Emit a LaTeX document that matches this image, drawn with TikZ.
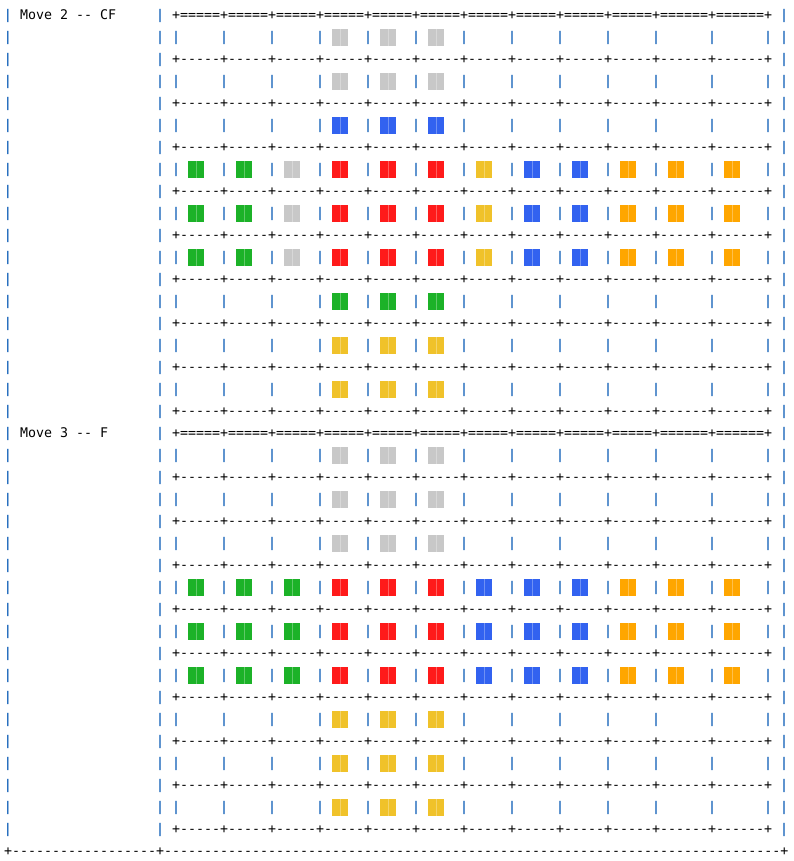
\documentclass[tikz,border=0pt]{standalone}
\usepackage{fontspec}
\setmonofont{DejaVu Sans Mono}
\definecolor{faceW}{RGB}{200,200,200}
\definecolor{faceG}{RGB}{28,178,40}
\definecolor{faceR}{RGB}{255,26,26}
\definecolor{faceY}{RGB}{240,194,42}
\definecolor{faceB}{RGB}{50,98,240}
\definecolor{faceO}{RGB}{255,166,0}
\definecolor{pipe}{RGB}{38,110,190}
\tikzset{
  ascii/.style={font=\ttfamily\fontsize{13.29pt}{22pt}\selectfont, inner sep=0pt, anchor=base},
  bar/.style={ascii, font=\ttfamily\bfseries\fontsize{13.29pt}{22pt}\selectfont, text=pipe},
  rule/.style={ascii, anchor=base west},
  tile/.style={path picture={\fill[white, opacity=.3] ([xshift=-.5pt]path picture bounding box.south) rectangle ([xshift=.5pt]path picture bounding box.north);}}
}
\def\blank{n}
\begin{document}
\begin{tikzpicture}[x=8pt, y=-22pt]
  % 魔方展开图（文本表格）
  \useasboundingbox (0,0) rectangle (99.125,39.136);
  \begin{scope}[shift={(1,0.886)}]
    \foreach \l in {0,...,37} {
      \node[bar] (outer-\l) at (0,\l) {|};
      \node[bar] (split-\l) at (19,\l) {|};
      \node[bar] (edge-\l) at (97,\l) {|};
    }
    \node[rule] (title2) at (1.5,0) {Move 2 -- CF};
    \node[rule] (title3) at (1.5,19) {Move 3 -- F};
    \foreach \b in {0,19} {
      \node[rule] (head-\b) at (20.5,\b) {+=====+=====+=====+=====+=====+=====+=====+=====+=====+=====+======+======+};
      \foreach \k in {1,...,9} {
        \pgfmathtruncatemacro\sepline{\b+2*\k}
        \pgfmathtruncatemacro\cellline{\sepline-1}
        \node[rule] (sep-\sepline) at (20.5,\sepline) {+-----+-----+-----+-----+-----+-----+-----+-----+-----+-----+------+------+};
        \foreach \col in {21,27,33,39,45,51,57,63,69,75,81,88,95}
          \node[bar] (cell-\cellline-\col) at (\col,\cellline) {|};
      }
    }
    \node[rule] (bottom) at (-0.5,38) {+------------------+-----------------------------------------------------------------------------+};
  \end{scope}
  % 色块
  \begin{scope}[shift={(1,0.682)}]
    \foreach \row [count=\r] in {
        {n,n,n,W,W,W,n,n,n,n,n,n},{n,n,n,W,W,W,n,n,n,n,n,n},{n,n,n,B,B,B,n,n,n,n,n,n},
        {G,G,W,R,R,R,Y,B,B,O,O,O},{G,G,W,R,R,R,Y,B,B,O,O,O},{G,G,W,R,R,R,Y,B,B,O,O,O},
        {n,n,n,G,G,G,n,n,n,n,n,n},{n,n,n,Y,Y,Y,n,n,n,n,n,n},{n,n,n,Y,Y,Y,n,n,n,n,n,n},
        {n,n,n,W,W,W,n,n,n,n,n,n},{n,n,n,W,W,W,n,n,n,n,n,n},{n,n,n,W,W,W,n,n,n,n,n,n},
        {G,G,G,R,R,R,B,B,B,O,O,O},{G,G,G,R,R,R,B,B,B,O,O,O},{G,G,G,R,R,R,B,B,B,O,O,O},
        {n,n,n,Y,Y,Y,n,n,n,n,n,n},{n,n,n,Y,Y,Y,n,n,n,n,n,n},{n,n,n,Y,Y,Y,n,n,n,n,n,n}} {
      \pgfmathtruncatemacro\tileline{2*\r-1+(\r>9)}
      \foreach \f [count=\k] in \row {
        \pgfmathtruncatemacro\col{21+6*(\k-1)+(\k>11)}
        \ifx\f\blank\else
          \path[tile, fill=face\f] (\col+1.5,\tileline-0.364) rectangle (\col+3.5,\tileline+0.409);
        \fi
      }
    }
  \end{scope}
\end{tikzpicture}
\end{document}
